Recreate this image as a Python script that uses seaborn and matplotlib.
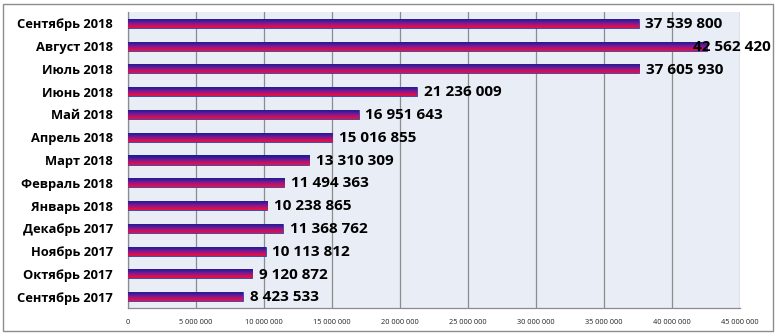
import numpy as np
import pandas as pd
import matplotlib
matplotlib.use("Agg")
import matplotlib.pyplot as plt
from matplotlib.colors import LinearSegmentedColormap
from matplotlib.patches import Rectangle
import seaborn as sns

months = ["Сентябрь 2018", "Август 2018", "Июль 2018", "Июнь 2018", "Май 2018",
          "Апрель 2018", "Март 2018", "Февраль 2018", "Январь 2018", "Декабрь 2017",
          "Ноябрь 2017", "Октябрь 2017", "Сентябрь 2017"]
values = [37539800, 42562420, 37605930, 21236009, 16951643,
          15016855, 13310309, 11494363, 10238865, 11368762,
          10113812, 9120872, 8423533]
xticks = [0, 5000000, 10000000, 15000000, 20000000, 25000000,
          30000000, 35000000, 40000000, 45000000]

df = pd.DataFrame({"month": months, "value": values})

sns.set_theme(style="white")
plt.rcParams["font.family"] = ["Open Sans", "DejaVu Sans"]

fig = plt.figure(figsize=(7.77, 3.34), dpi=100)
ax = fig.add_axes([128 / 777, 26 / 334, 612 / 777, 296 / 334])
ax.set_facecolor("#e8edf6")

sns.barplot(data=df, x="value", y="month", orient="h", width=0.4,
            color="#4b1a9a", edgecolor="#3b3fb0", linewidth=0.6, ax=ax, zorder=3)

ax.set_xlim(0, 45000000)
ax.set_ylim(len(months) - 0.5, -0.5)

# vertical gradient fill on each bar: navy on top, red at the bottom
grad = LinearSegmentedColormap.from_list(
    "bar", ["#1a1f8c", "#3a1a96", "#7a1898", "#c0145e", "#ea1040"])
g = np.linspace(0, 1, 64).reshape(-1, 1)
for p in ax.patches:
    x0, y0 = p.get_x(), p.get_y()
    w, h = p.get_width(), p.get_height()
    im = ax.imshow(g, cmap=grad, aspect="auto", extent=(x0, x0 + w, y0 + h, y0),
                   origin="upper", zorder=3.5, interpolation="bilinear")
    im.set_clip_path(p)
ax.set_xlim(0, 45000000)
ax.set_ylim(len(months) - 0.5, -0.5)

# value labels; the longest one is pulled back so it stays inside the frame
vmax = max(values)
for i, v in enumerate(values):
    dx = -10 if v == vmax else 5
    ax.annotate(f"{v:,}".replace(",", " "), xy=(v, i), xytext=(dx, -0.5),
                textcoords="offset points", ha="left", va="center",
                fontsize=11, fontweight="bold", color="black", zorder=5)

ax.set_xticks(xticks)
ax.set_xticklabels([f"{t:,}".replace(",", " ") for t in xticks],
                   fontsize=5.3, color="#222222")
ax.set_yticks(range(len(months)))
ax.set_yticklabels(months, fontsize=9.3, fontweight="bold", color="black")
ax.set_xlabel("")
ax.set_ylabel("")

ax.grid(axis="x", color="#8c8c8c", linewidth=0.9, zorder=1)
ax.set_axisbelow(True)
for s in ["top", "right"]:
    ax.spines[s].set_visible(False)
for s in ["left", "bottom"]:
    ax.spines[s].set_color("#8c8c8c")
    ax.spines[s].set_linewidth(0.9)

# tick marks: y ticks on category boundaries, x ticks downward
ax.set_yticks(np.arange(-0.5, len(months), 1), minor=True)
ax.tick_params(axis="y", which="major", length=0, pad=11)
ax.tick_params(axis="y", which="minor", length=4, color="#8c8c8c", width=0.9, direction="out")
ax.tick_params(axis="x", which="major", length=4, color="#8c8c8c", width=0.9,
               direction="out", pad=4)

# outer frame
fig.patches.append(Rectangle((3 / 777, 3 / 334), 770 / 777, 327 / 334,
                             transform=fig.transFigure, fill=False,
                             edgecolor="#8c8c8c", linewidth=1.0))

fig.savefig("out.png", dpi=100)
